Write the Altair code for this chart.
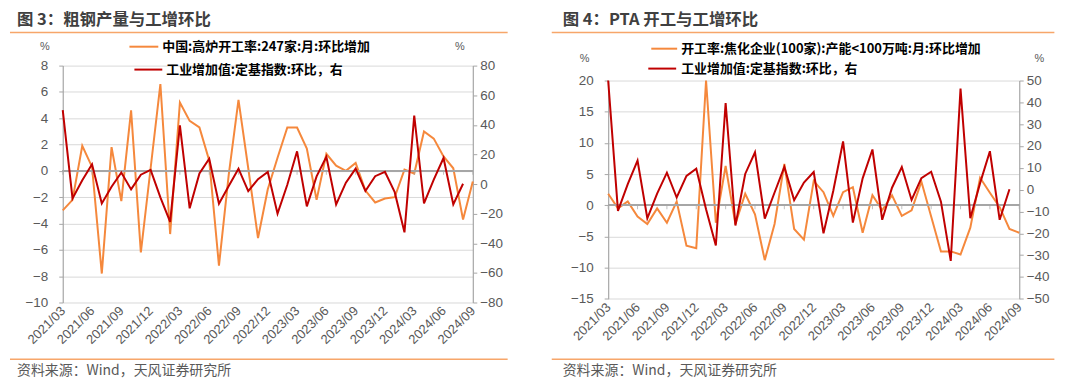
import altair as alt
import pandas as pd

# ---------------- data ----------------
months = [str(m) for m in pd.period_range("2021-03", "2024-09", freq="M").strftime("%Y/%m")]
tick_labels = months[::3]

# 中国:高炉开工率:247家:月:环比增加 (%), 2021/03 - 2024/09
steel_bf = [-3.0, -2.2, 1.9, 0.3, -7.8, 1.8, -2.3, 4.6, -6.2, 0.2,
            6.6, -4.8, 5.2, 3.8, 3.3, 0.8, -7.2, -0.3, 5.4, 0.2,
            -5.1, -1.4, 1.0, 3.3, 3.3, 1.7, -2.2, 1.3, 0.4, 0.0,
            0.6, -1.5, -2.4, -2.1, -2.0, 0.1, -0.2, 3.0, 2.45, 1.1,
            0.2, -3.7, -0.8]

# 开工率:焦化企业(100家):产能<100万吨:月:环比增加 (%), 2021/03 - 2024/09
pta_rate = [1.85, -0.5, 0.6, -1.8, -3.0, -0.5, -2.8, 0.6, -6.5, -6.9,
            40.0, -2.8, 6.3, -3.0, 1.85, -1.45, -8.8, -3.0, 6.65, -3.8,
            -5.5, 3.9, 2.1, -1.7, 2.1, 2.9, -4.4, 1.6, -0.8, 1.6,
            -1.7, -0.8, 3.8, -1.8, -7.4, -7.4, -7.9, -3.6, 4.4, 2.0,
            -0.3, -3.8, -4.4]

# 工业增加值:定基指数:环比 (%), 2021/03 - 2024/08
iva = [50.0, -9.7, 2.5, 13.3, -13.1, -1.8, 7.8, -3.6, 6.3, 9.6,
       -9.0, -25.6, 39.7, -16.4, 7.2, 17.1, -13.3, -1.3, 10.4, -4.8,
       3.3, 8.1, -20.0, -0.5, 22.1, -15.1, 5.2, 18.4, -13.8, 0.9,
       10.4, -4.7, 5.3, 8.2, -5.5, -32.6, 46.3, -13.1, 3.0, 17.6,
       -13.8, 0.2]

titles = ["图 3：粗钢产量与工增环比", "图 4：PTA 开工与工增环比"]
legend_steel = "中国:高炉开工率:247家:月:环比增加"
legend_pta = "开工率:焦化企业(100家):产能<100万吨:月:环比增加"
legend_iva = "工业增加值:定基指数:环比，右"
source = "资料来源：Wind，天风证券研究所"

df = pd.DataFrame({
    "month": months,
    "steel": steel_bf,
    "pta": pta_rate,
    "iva": iva + [None],
})
ticks_df = pd.DataFrame({"month": tick_labels, "z": [0] * len(tick_labels)})
one = pd.DataFrame({"k": [0]})

# ---------------- style ----------------
ORANGE = "#F5883C"
RED = "#C00000"
DECO = "#F7A66A"
AXC = "#A6A6A6"
LABC = "#595959"
NUM_FONT = "Liberation Sans, Arial, sans-serif"
CJK = "Noto Sans CJK SC, sans-serif"
OY = 64  # page y of the (shared) group origin

XSCALE = alt.Scale(type="point", domain=months, padding=0)
# the same axis definition is used in every layer so the shared x axis merges cleanly
XAXIS = alt.Axis(values=tick_labels, labelAngle=-45, labelAlign="right",
                 labelBaseline="middle", labelPadding=6, title=None, domain=False,
                 ticks=False, grid=False, labelOverlap=False, labelColor=LABC,
                 labelFontSize=13, labelFont=NUM_FONT)


def y_axis(values, orient, grid):
    return alt.Axis(values=values, orient=orient, grid=grid, gridColor="#D9D9D9",
                    gridWidth=1, domainColor=AXC, domainWidth=1.2, tickColor=AXC,
                    tickSize=4, labelFontSize=13.5, labelColor=LABC, labelFont=NUM_FONT,
                    labelPadding=3 if orient == "right" else 11, labelOverlap=False,
                    labelFlush=False, title=None)


def txt(s, x, y, size=13, color="#000000", weight="normal", font=CJK, align="left"):
    return alt.Chart(one).mark_text(text=s, align=align, baseline="middle", fontSize=size,
                                    color=color, fontWeight=weight, font=font).encode(
        x=alt.value(x), y=alt.value(y))


def hline(x1, x2, y, color, width):
    return alt.Chart(one).mark_rule(color=color, strokeWidth=width).encode(
        x=alt.value(x1), x2=alt.value(x2), y=alt.value(y))


def panel(field, ldomain, lvalues, rdomain, rvalues, width, ox, top, bottom,
          title, leg1, leg_pos, pct_pos, line_x, clamp):
    # decorations are given in page coordinates and shifted to the panel origin
    def px(x):
        return x - ox

    def py(y):
        return y - OY

    height = bottom - OY
    yrange = [bottom - OY, top - OY]
    lscale = alt.Scale(domain=ldomain, nice=False, zero=False, padding=0,
                       range=yrange, clamp=clamp)
    rscale = alt.Scale(domain=rdomain, nice=False, zero=False, padding=0,
                       range=yrange)
    xenc = alt.X("month:O", scale=XSCALE, axis=XAXIS, sort=months)

    base = alt.Chart(df)
    orange = base.mark_line(color=ORANGE, strokeWidth=2).encode(
        x=xenc,
        y=alt.Y(f"{field}:Q", scale=lscale, axis=y_axis(lvalues, "left", True)),
    )
    zero = alt.Chart(ticks_df).mark_rule(color=AXC, strokeWidth=1.4).encode(
        y=alt.Y("z:Q", scale=lscale, axis=None))
    zticks = alt.Chart(ticks_df).mark_tick(orient="vertical", size=4, thickness=1,
                                           color=AXC, yOffset=2).encode(
        x=xenc, y=alt.Y("z:Q", scale=lscale, axis=None))
    red = base.mark_line(color=RED, strokeWidth=2).encode(
        x=xenc,
        y=alt.Y("iva:Q", scale=rscale, axis=y_axis(rvalues, "right", False)),
    )

    (l1x1, l1x2, l1y, t1x), (l2x1, l2x2, l2y, t2x) = leg_pos
    deco = [
        txt(title, px(pct_pos[3]), py(18), 16.5, "#404040", "bold"),
        hline(px(line_x[0]), px(line_x[1]), py(30.7), DECO, 1.5),
        hline(px(line_x[0]), px(line_x[1]), py(359), DECO, 1.5),
        txt(source, px(pct_pos[3]), py(371), 14, LABC),
        txt("%", px(pct_pos[0]), py(pct_pos[2]), 11, LABC, font=NUM_FONT, align="center"),
        txt("%", px(pct_pos[1]), py(pct_pos[2]), 11, LABC, font=NUM_FONT, align="center"),
        hline(px(l1x1), px(l1x2), py(l1y), ORANGE, 2),
        txt(leg1, px(t1x), py(l1y), 13, "#000000", "bold"),
        hline(px(l2x1), px(l2x2), py(l2y), RED, 2),
        txt(legend_iva, px(t2x), py(l2y), 13, "#000000", "bold"),
        # invisible box fixing this panel's full bounds (page coords)
        alt.Chart(one).mark_rect(opacity=0).encode(
            x=alt.value(px(line_x[2])), x2=alt.value(px(line_x[3])),
            y=alt.value(py(8)), y2=alt.value(py(378))),
    ]
    return alt.layer(orange, zero, zticks, red, *deco).resolve_scale(
        y="independent").properties(width=width, height=height)


left = panel("steel", [-10, 8], list(range(-10, 9, 2)), [-80, 80], list(range(-80, 81, 20)),
             412, 61, 64, 302, titles[0], legend_steel,
             ((128, 157, 45, 161), (133, 161, 68, 165)), (43, 460, 45, 15),
             (8, 508, 8, 540), False)

right = panel("pta", [-15, 20], list(range(-15, 21, 5)), [-50, 50], list(range(-50, 51, 10)),
              413, 606.7, 79, 298.3, titles[1], legend_pta,
              ((650, 676, 47, 680), (647, 675, 67, 680)), (583, 1040, 57, 561),
              (550, 1055, 540, 1072), True)

chart = alt.hconcat(left, right, spacing=0, bounds="full", padding=0).configure_view(
    stroke="transparent")

chart.save("out.html", embed_options={"renderer": "svg", "actions": False})
